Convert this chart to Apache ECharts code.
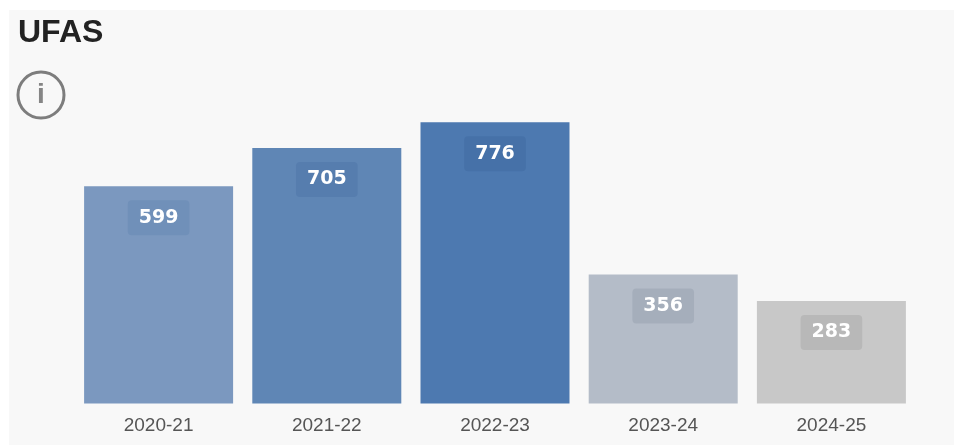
<!DOCTYPE html>
<html><head><meta charset="utf-8">
<style>html,body{margin:0;padding:0;background:#fff}#c{width:954px;height:445px}</style>
<script src="https://cdn.jsdelivr.net/npm/echarts@6/dist/echarts.min.js"></script></head>
<body><div id="c"></div>
<script>
const categories=['2020-21','2021-22','2022-23','2023-24','2024-25'];
const values=[599,705,776,356,283];
const barColors=['#7b98bf','#5f86b5','#4d79b0','#b4bcc8','#c8c8c8'];
const labelBg=['#7090b9','#567dae','#4671a8','#a5aebb','#b8b8b8'];
const chart=echarts.init(document.getElementById('c'),null,{renderer:'canvas'});
chart.setOption({
 animation:false,
 backgroundColor:'#fff',
 graphic:[
  {type:'rect',z:-1,shape:{x:9,y:10,width:945,height:435},style:{fill:'#f8f8f8'}},
  {type:'text',x:18,y:33,style:{text:'UFAS',verticalAlign:'middle',font:'bold 32px "Liberation Sans"',fill:'#222'}},
  {type:'circle',shape:{cx:41,cy:95,r:23},style:{fill:'none',stroke:'#7d7d7d',lineWidth:3}},
  {type:'text',x:41,y:95,style:{text:'i',align:'center',verticalAlign:'middle',font:'bold 28px "Liberation Sans"',fill:'#858585'}}
 ],
 grid:{left:74.5,width:841,top:113.5,height:290},
 xAxis:{type:'category',data:categories,axisLine:{show:false},axisTick:{show:false},
  axisLabel:{color:'#555',fontSize:19,fontFamily:'Liberation Sans',margin:13}},
 yAxis:{type:'value',min:0,max:800,show:false,splitLine:{show:false}},
 series:[{type:'bar',barWidth:149,
  data:values.map((v,i)=>({value:v,itemStyle:{color:barColors[i]},
   label:{backgroundColor:labelBg[i]}})),
  label:{show:true,position:'insideTop',distance:14,color:'#fff',fontWeight:'bold',fontSize:19,
   fontFamily:'DejaVu Sans',padding:[8,11,8,11],borderRadius:4}}]
});
</script></body></html>
